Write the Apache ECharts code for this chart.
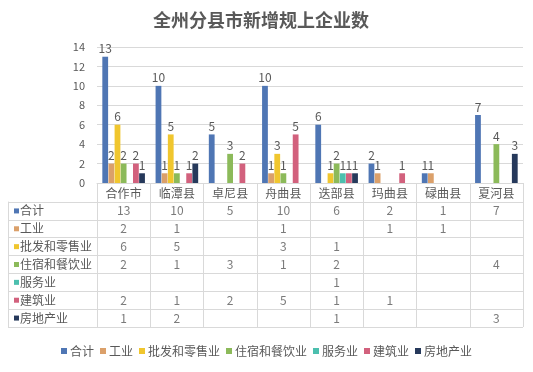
<!DOCTYPE html>
<html><head><meta charset="utf-8">
<script src="https://cdn.jsdelivr.net/npm/echarts@6/dist/echarts.min.js"></script>
<style>html,body{margin:0;padding:0;background:#fff}#c{width:533px;height:372px}</style>
</head><body><div id="c"></div>
<script>
const categories = ['合作市','临潭县','卓尼县','舟曲县','迭部县','玛曲县','碌曲县','夏河县'];
const seriesNames = ['合计','工业','批发和零售业','住宿和餐饮业','服务业','建筑业','房地产业'];
const total       = [13, 10, 5, 10, 6, 2, 1, 7];
const industry    = [2, 1, null, 1, null, 1, 1, null];
const retail      = [6, 5, null, 3, 1, null, null, null];
const hospitality = [2, 1, 3, 1, 2, null, null, 4];
const services    = [null, null, null, null, 1, null, null, null];
const construction= [2, 1, 2, 5, 1, 1, null, null];
const realEstate  = [1, 2, null, null, 1, null, null, 3];
const yTicks = [0, 2, 4, 6, 8, 10, 12, 14];
const colors = ['#4f76b4','#dba06a','#f0c62e','#8cba5a','#4cbfae','#d2617d','#26395b'];

const allValues = [total, industry, retail, hospitality, services, construction, realEstate];
const font = 'Noto Sans CJK SC';
const txt = '#595959';
const border = '#d9d9d9';

const barSeries = seriesNames.map((n, i) => ({
  name: n, type: 'bar', xAxisIndex: 0, yAxisIndex: 0,
  data: allValues[i], barGap: '6%', barCategoryGap: '20%',
  itemStyle: { color: colors[i] },
  label: { show: true, position: 'top', distance: 2, color: txt, fontSize: 12, fontFamily: font }
}));

const tableData = [];
allValues.forEach((arr, r) => arr.forEach((v, c) => { if (v !== null) tableData.push([c, r, v]); }));

const rich = {};
colors.forEach((c, i) => { rich['s' + i] = { width: 5, height: 5, backgroundColor: c }; });
rich.t = { color: txt, fontSize: 12, fontFamily: font, padding: [0, 0, 0, 1] };

const chart = echarts.init(document.getElementById('c'));
chart.setOption({
  animation: false,
  textStyle: { fontFamily: font },
  title: { text: '全州分县市新增规上企业数', left: 148, top: 6,
    textStyle: { fontSize: 18, fontWeight: 'bold', color: txt, fontFamily: font } },
  legend: { data: seriesNames, bottom: 10, left: 'center', icon: 'rect', itemWidth: 6, itemHeight: 6, itemGap: 6,
    textStyle: { color: txt, fontSize: 12, fontFamily: font, padding: [0, 0, 0, -2] } },
  grid: [
    { left: 97, right: 10, top: 47, height: 136 },
    { left: 97, right: 10, top: 202, height: 125 }
  ],
  xAxis: [
    { type: 'category', gridIndex: 0, data: categories,
      axisLine: { lineStyle: { color: border } },
      axisTick: { show: true, length: 19, lineStyle: { color: border } },
      axisLabel: { color: txt, fontSize: 12, margin: 4, fontFamily: font } },
    { type: 'category', gridIndex: 1, data: categories, position: 'top',
      axisLine: { show: true, lineStyle: { color: border } },
      axisTick: { show: false }, axisLabel: { show: false },
      splitLine: { show: true, lineStyle: { color: border } } }
  ],
  yAxis: [
    { type: 'value', gridIndex: 0, min: yTicks[0], max: yTicks[yTicks.length - 1], interval: 2,
      axisLine: { show: false }, axisTick: { show: false },
      axisLabel: { color: txt, fontSize: 11, margin: 12 },
      splitLine: { lineStyle: { color: border } } },
    { type: 'category', gridIndex: 1, data: seriesNames, inverse: true,
      axisLine: { show: true, lineStyle: { color: border } },
      axisTick: { show: true, length: 89, interval: 0, lineStyle: { color: border } },
      axisLabel: { align: 'left', margin: 83, interval: 0,
        formatter: (v, i) => '{s' + i + '|}{t|' + v + '}', rich: rich },
      splitLine: { show: true, lineStyle: { color: border } } },
    { type: 'category', gridIndex: 1, data: seriesNames, inverse: true, position: 'left', offset: 89,
      axisLine: { show: true, lineStyle: { color: border } },
      axisTick: { show: false }, axisLabel: { show: false } }
  ],
  series: barSeries.concat([{
    name: '表', type: 'scatter', xAxisIndex: 1, yAxisIndex: 1, symbolSize: 0,
    data: tableData, silent: true,
    label: { show: true, position: 'inside', color: txt, fontSize: 12, fontFamily: font,
      formatter: p => String(p.value[2]) }
  }])
});
</script></body></html>
